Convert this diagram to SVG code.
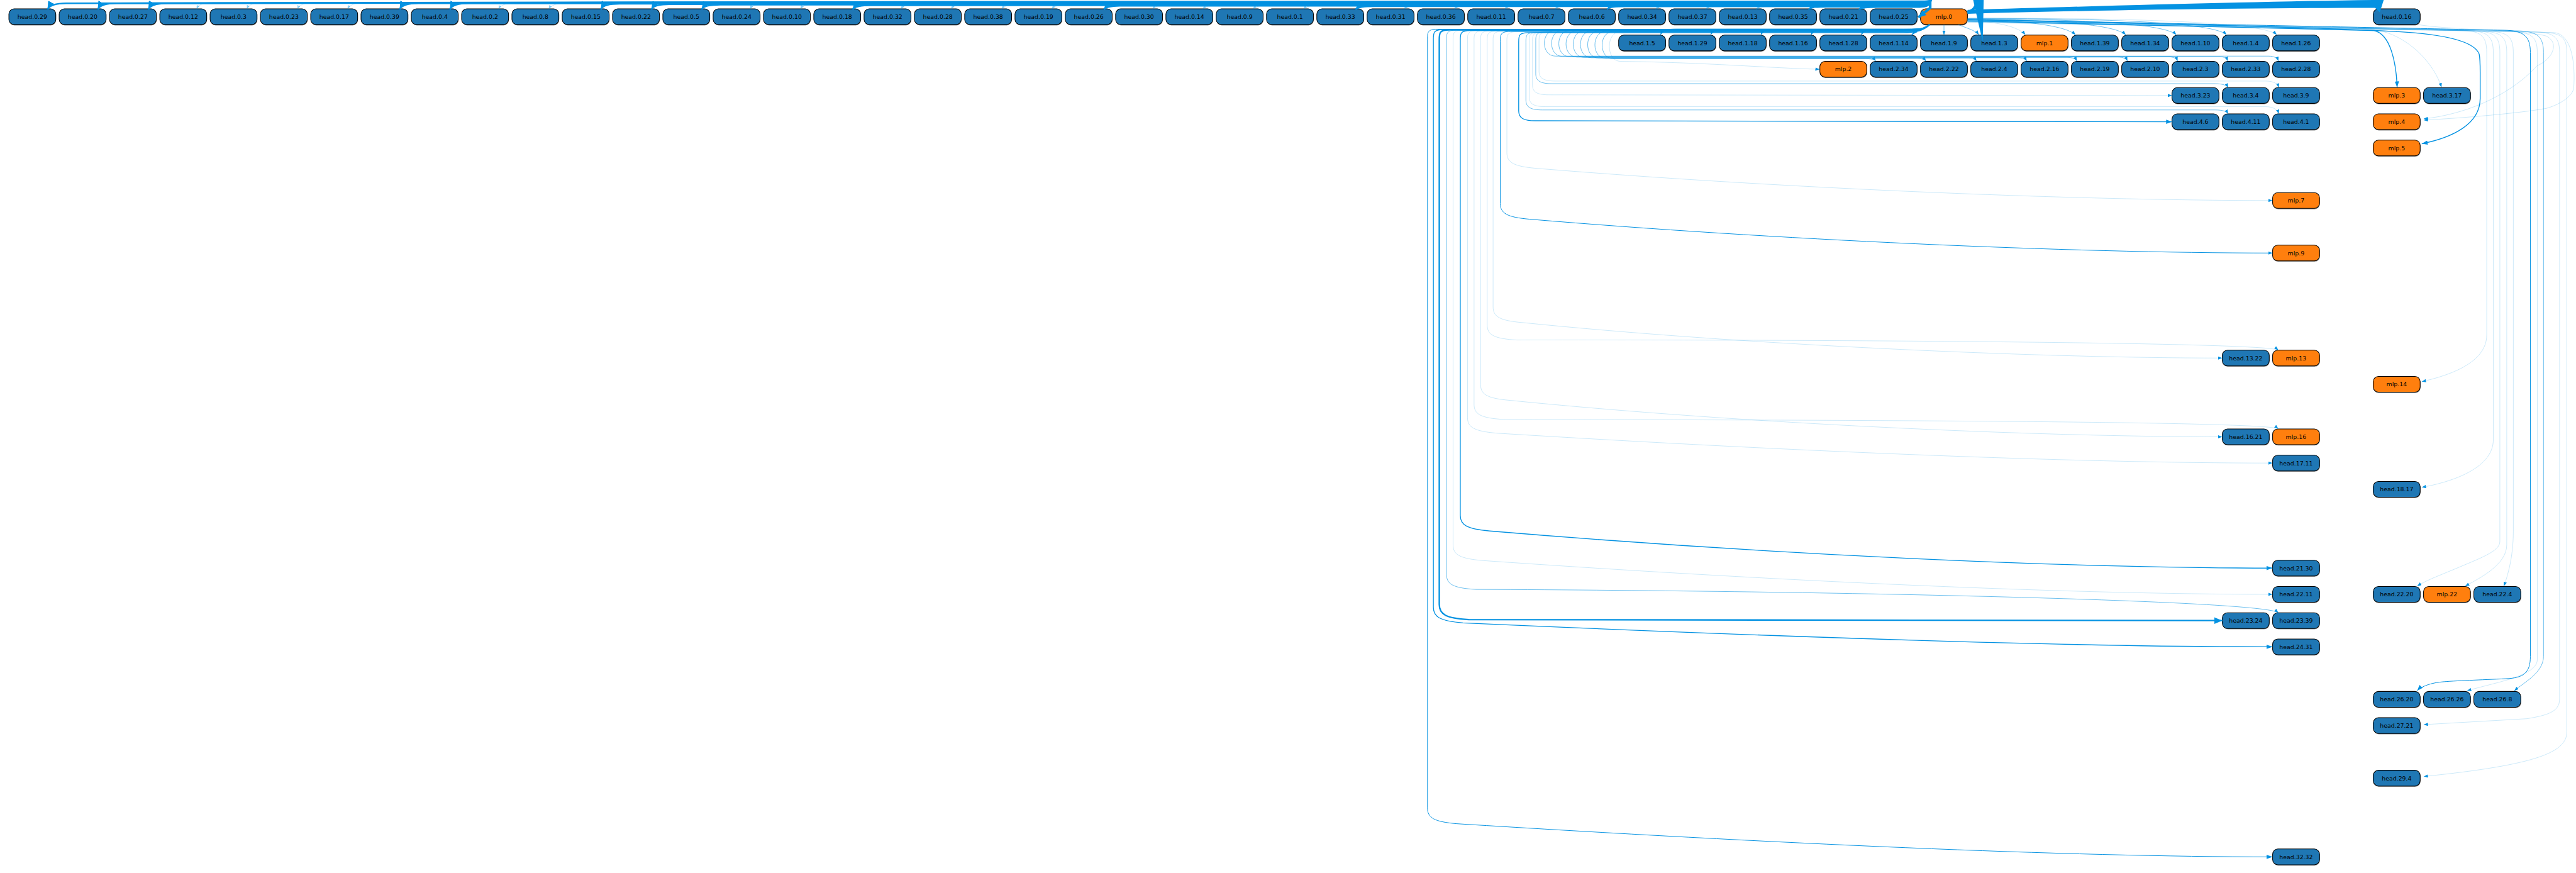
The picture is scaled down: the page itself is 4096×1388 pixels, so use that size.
<svg xmlns="http://www.w3.org/2000/svg" width="4096" height="1388" viewBox="0 0 4096 1388">
<style>
.t{font-family:"DejaVu Sans",sans-serif;font-size:18px;fill:#000;text-anchor:middle}
.e{fill:none;stroke:#0492e2}
.l{stroke-width:1;stroke-opacity:.4}
.m{stroke-width:1.5;stroke-opacity:.75}
.m2{stroke-width:1.9}
.s{stroke-width:2.6}
.k{stroke-width:4.5}
.w{stroke-width:5}
.f{fill:#0492e2;stroke:none}
</style>
<defs>
<marker id="a0" viewBox="0 0 12 9" refX="12" refY="4.5" markerWidth="12" markerHeight="9" markerUnits="userSpaceOnUse" orient="auto"><path d="M0,0L12,4.5L0,9z" fill="#0492e2" fill-opacity=".45"/></marker>
<marker id="a1" viewBox="0 0 13 10" refX="13" refY="5" markerWidth="13" markerHeight="10" markerUnits="userSpaceOnUse" orient="auto"><path d="M0,0L13,5L0,10z" fill="#0492e2"/></marker>
<marker id="a2" viewBox="0 0 18 13" refX="18" refY="6.5" markerWidth="18" markerHeight="13" markerUnits="userSpaceOnUse" orient="auto"><path d="M0,0L18,6.5L0,13z" fill="#0492e2"/></marker>
<marker id="a3" viewBox="0 0 24 20" refX="24" refY="10" markerWidth="24" markerHeight="20" markerUnits="userSpaceOnUse" orient="auto"><path d="M0,0L24,10L0,20z" fill="#0492e2"/></marker>
<g id="nb"><rect x="1" y="2.5" width="143" height="48" rx="16" fill="#8c8c8c"/><rect width="143" height="48" rx="16" fill="#1f77b4" stroke="#000" stroke-width="2"/></g>
<g id="no"><rect x="1" y="2.5" width="143" height="48" rx="16" fill="#8c8c8c"/><rect width="143" height="48" rx="16" fill="#ff7f0e" stroke="#000" stroke-width="2"/></g>
</defs>
<rect width="4096" height="1388" fill="#fff"/>
<g transform="scale(0.521783)">
<g id="nodes">
<g id="head-0-29"><use href="#nb" x="27" y="27"/><text class="t" x="98.5" y="57.5">head.0.29</text></g>
<g id="head-0-20"><use href="#nb" x="180.3" y="27"/><text class="t" x="251.8" y="57.5">head.0.20</text></g>
<g id="head-0-27"><use href="#nb" x="333.6" y="27"/><text class="t" x="405.1" y="57.5">head.0.27</text></g>
<g id="head-0-12"><use href="#nb" x="486.9" y="27"/><text class="t" x="558.4" y="57.5">head.0.12</text></g>
<g id="head-0-3"><use href="#nb" x="640.2" y="27"/><text class="t" x="711.7" y="57.5">head.0.3</text></g>
<g id="head-0-23"><use href="#nb" x="793.5" y="27"/><text class="t" x="865" y="57.5">head.0.23</text></g>
<g id="head-0-17"><use href="#nb" x="946.8" y="27"/><text class="t" x="1018.3" y="57.5">head.0.17</text></g>
<g id="head-0-39"><use href="#nb" x="1100.1" y="27"/><text class="t" x="1171.6" y="57.5">head.0.39</text></g>
<g id="head-0-4"><use href="#nb" x="1253.4" y="27"/><text class="t" x="1324.9" y="57.5">head.0.4</text></g>
<g id="head-0-2"><use href="#nb" x="1406.7" y="27"/><text class="t" x="1478.2" y="57.5">head.0.2</text></g>
<g id="head-0-8"><use href="#nb" x="1560" y="27"/><text class="t" x="1631.5" y="57.5">head.0.8</text></g>
<g id="head-0-15"><use href="#nb" x="1713.3" y="27"/><text class="t" x="1784.8" y="57.5">head.0.15</text></g>
<g id="head-0-22"><use href="#nb" x="1866.6" y="27"/><text class="t" x="1938.1" y="57.5">head.0.22</text></g>
<g id="head-0-5"><use href="#nb" x="2019.9" y="27"/><text class="t" x="2091.4" y="57.5">head.0.5</text></g>
<g id="head-0-24"><use href="#nb" x="2173.2" y="27"/><text class="t" x="2244.7" y="57.5">head.0.24</text></g>
<g id="head-0-10"><use href="#nb" x="2326.5" y="27"/><text class="t" x="2398" y="57.5">head.0.10</text></g>
<g id="head-0-18"><use href="#nb" x="2479.8" y="27"/><text class="t" x="2551.3" y="57.5">head.0.18</text></g>
<g id="head-0-32"><use href="#nb" x="2633.1" y="27"/><text class="t" x="2704.6" y="57.5">head.0.32</text></g>
<g id="head-0-28"><use href="#nb" x="2786.4" y="27"/><text class="t" x="2857.9" y="57.5">head.0.28</text></g>
<g id="head-0-38"><use href="#nb" x="2939.7" y="27"/><text class="t" x="3011.2" y="57.5">head.0.38</text></g>
<g id="head-0-19"><use href="#nb" x="3093" y="27"/><text class="t" x="3164.5" y="57.5">head.0.19</text></g>
<g id="head-0-26"><use href="#nb" x="3246.3" y="27"/><text class="t" x="3317.8" y="57.5">head.0.26</text></g>
<g id="head-0-30"><use href="#nb" x="3399.6" y="27"/><text class="t" x="3471.1" y="57.5">head.0.30</text></g>
<g id="head-0-14"><use href="#nb" x="3552.9" y="27"/><text class="t" x="3624.4" y="57.5">head.0.14</text></g>
<g id="head-0-9"><use href="#nb" x="3706.2" y="27"/><text class="t" x="3777.7" y="57.5">head.0.9</text></g>
<g id="head-0-1"><use href="#nb" x="3859.5" y="27"/><text class="t" x="3931" y="57.5">head.0.1</text></g>
<g id="head-0-33"><use href="#nb" x="4012.8" y="27"/><text class="t" x="4084.3" y="57.5">head.0.33</text></g>
<g id="head-0-31"><use href="#nb" x="4166.1" y="27"/><text class="t" x="4237.6" y="57.5">head.0.31</text></g>
<g id="head-0-36"><use href="#nb" x="4319.4" y="27"/><text class="t" x="4390.9" y="57.5">head.0.36</text></g>
<g id="head-0-11"><use href="#nb" x="4472.7" y="27"/><text class="t" x="4544.2" y="57.5">head.0.11</text></g>
<g id="head-0-7"><use href="#nb" x="4626" y="27"/><text class="t" x="4697.5" y="57.5">head.0.7</text></g>
<g id="head-0-6"><use href="#nb" x="4779.3" y="27"/><text class="t" x="4850.8" y="57.5">head.0.6</text></g>
<g id="head-0-34"><use href="#nb" x="4932.6" y="27"/><text class="t" x="5004.1" y="57.5">head.0.34</text></g>
<g id="head-0-37"><use href="#nb" x="5085.9" y="27"/><text class="t" x="5157.4" y="57.5">head.0.37</text></g>
<g id="head-0-13"><use href="#nb" x="5239.2" y="27"/><text class="t" x="5310.7" y="57.5">head.0.13</text></g>
<g id="head-0-35"><use href="#nb" x="5392.5" y="27"/><text class="t" x="5464" y="57.5">head.0.35</text></g>
<g id="head-0-21"><use href="#nb" x="5545.8" y="27"/><text class="t" x="5617.3" y="57.5">head.0.21</text></g>
<g id="head-0-25"><use href="#nb" x="5699.1" y="27"/><text class="t" x="5770.6" y="57.5">head.0.25</text></g>
<g id="mlp-0"><use href="#no" x="5852.4" y="27"/><text class="t" x="5923.9" y="57.5">mlp.0</text></g>
<g id="head-0-16"><use href="#nb" x="7232.1" y="27"/><text class="t" x="7303.6" y="57.5">head.0.16</text></g>

<g id="head-1-5"><use href="#nb" x="4932.6" y="107"/><text class="t" x="5004.1" y="137.5">head.1.5</text></g>
<g id="head-1-29"><use href="#nb" x="5085.9" y="107"/><text class="t" x="5157.4" y="137.5">head.1.29</text></g>
<g id="head-1-18"><use href="#nb" x="5239.2" y="107"/><text class="t" x="5310.7" y="137.5">head.1.18</text></g>
<g id="head-1-16"><use href="#nb" x="5392.5" y="107"/><text class="t" x="5464" y="137.5">head.1.16</text></g>
<g id="head-1-28"><use href="#nb" x="5545.8" y="107"/><text class="t" x="5617.3" y="137.5">head.1.28</text></g>
<g id="head-1-14"><use href="#nb" x="5699.1" y="107"/><text class="t" x="5770.6" y="137.5">head.1.14</text></g>
<g id="head-1-9"><use href="#nb" x="5852.4" y="107"/><text class="t" x="5923.9" y="137.5">head.1.9</text></g>
<g id="head-1-3"><use href="#nb" x="6005.7" y="107"/><text class="t" x="6077.2" y="137.5">head.1.3</text></g>
<g id="mlp-1"><use href="#no" x="6159" y="107"/><text class="t" x="6230.5" y="137.5">mlp.1</text></g>
<g id="head-1-39"><use href="#nb" x="6312.3" y="107"/><text class="t" x="6383.8" y="137.5">head.1.39</text></g>
<g id="head-1-34"><use href="#nb" x="6465.6" y="107"/><text class="t" x="6537.1" y="137.5">head.1.34</text></g>
<g id="head-1-10"><use href="#nb" x="6618.9" y="107"/><text class="t" x="6690.4" y="137.5">head.1.10</text></g>
<g id="head-1-4"><use href="#nb" x="6772.2" y="107"/><text class="t" x="6843.7" y="137.5">head.1.4</text></g>
<g id="head-1-26"><use href="#nb" x="6925.5" y="107"/><text class="t" x="6997" y="137.5">head.1.26</text></g>

<g id="mlp-2"><use href="#no" x="5545.8" y="187"/><text class="t" x="5617.3" y="217.5">mlp.2</text></g>
<g id="head-2-34"><use href="#nb" x="5699.1" y="187"/><text class="t" x="5770.6" y="217.5">head.2.34</text></g>
<g id="head-2-22"><use href="#nb" x="5852.4" y="187"/><text class="t" x="5923.9" y="217.5">head.2.22</text></g>
<g id="head-2-4"><use href="#nb" x="6005.7" y="187"/><text class="t" x="6077.2" y="217.5">head.2.4</text></g>
<g id="head-2-16"><use href="#nb" x="6159" y="187"/><text class="t" x="6230.5" y="217.5">head.2.16</text></g>
<g id="head-2-19"><use href="#nb" x="6312.3" y="187"/><text class="t" x="6383.8" y="217.5">head.2.19</text></g>
<g id="head-2-10"><use href="#nb" x="6465.6" y="187"/><text class="t" x="6537.1" y="217.5">head.2.10</text></g>
<g id="head-2-3"><use href="#nb" x="6618.9" y="187"/><text class="t" x="6690.4" y="217.5">head.2.3</text></g>
<g id="head-2-33"><use href="#nb" x="6772.2" y="187"/><text class="t" x="6843.7" y="217.5">head.2.33</text></g>
<g id="head-2-28"><use href="#nb" x="6925.5" y="187"/><text class="t" x="6997" y="217.5">head.2.28</text></g>

<g id="head-3-23"><use href="#nb" x="6618.9" y="267"/><text class="t" x="6690.4" y="297.5">head.3.23</text></g>
<g id="head-3-4"><use href="#nb" x="6772.2" y="267"/><text class="t" x="6843.7" y="297.5">head.3.4</text></g>
<g id="head-3-9"><use href="#nb" x="6925.5" y="267"/><text class="t" x="6997" y="297.5">head.3.9</text></g>
<g id="mlp-3"><use href="#no" x="7232.1" y="267"/><text class="t" x="7303.6" y="297.5">mlp.3</text></g>
<g id="head-3-17"><use href="#nb" x="7385.4" y="267"/><text class="t" x="7456.9" y="297.5">head.3.17</text></g>

<g id="head-4-6"><use href="#nb" x="6618.9" y="347"/><text class="t" x="6690.4" y="377.5">head.4.6</text></g>
<g id="head-4-11"><use href="#nb" x="6772.2" y="347"/><text class="t" x="6843.7" y="377.5">head.4.11</text></g>
<g id="head-4-1"><use href="#nb" x="6925.5" y="347"/><text class="t" x="6997" y="377.5">head.4.1</text></g>
<g id="mlp-4"><use href="#no" x="7232.1" y="347"/><text class="t" x="7303.6" y="377.5">mlp.4</text></g>
<g id="mlp-5"><use href="#no" x="7232.1" y="427"/><text class="t" x="7303.6" y="457.5">mlp.5</text></g>
<g id="mlp-7"><use href="#no" x="6925.5" y="587"/><text class="t" x="6997" y="617.5">mlp.7</text></g>
<g id="mlp-9"><use href="#no" x="6925.5" y="747"/><text class="t" x="6997" y="777.5">mlp.9</text></g>
<g id="head-13-22"><use href="#nb" x="6772.2" y="1067"/><text class="t" x="6843.7" y="1097.5">head.13.22</text></g>
<g id="mlp-13"><use href="#no" x="6925.5" y="1067"/><text class="t" x="6997" y="1097.5">mlp.13</text></g>
<g id="mlp-14"><use href="#no" x="7232.1" y="1147"/><text class="t" x="7303.6" y="1177.5">mlp.14</text></g>
<g id="head-16-21"><use href="#nb" x="6772.2" y="1307"/><text class="t" x="6843.7" y="1337.5">head.16.21</text></g>
<g id="mlp-16"><use href="#no" x="6925.5" y="1307"/><text class="t" x="6997" y="1337.5">mlp.16</text></g>
<g id="head-17-11"><use href="#nb" x="6925.5" y="1387"/><text class="t" x="6997" y="1417.5">head.17.11</text></g>
<g id="head-18-17"><use href="#nb" x="7232.1" y="1467"/><text class="t" x="7303.6" y="1497.5">head.18.17</text></g>
<g id="head-21-30"><use href="#nb" x="6925.5" y="1707"/><text class="t" x="6997" y="1737.5">head.21.30</text></g>
<g id="head-22-11"><use href="#nb" x="6925.5" y="1787"/><text class="t" x="6997" y="1817.5">head.22.11</text></g>
<g id="head-22-20"><use href="#nb" x="7232.1" y="1787"/><text class="t" x="7303.6" y="1817.5">head.22.20</text></g>
<g id="mlp-22"><use href="#no" x="7385.4" y="1787"/><text class="t" x="7456.9" y="1817.5">mlp.22</text></g>
<g id="head-22-4"><use href="#nb" x="7538.7" y="1787"/><text class="t" x="7610.2" y="1817.5">head.22.4</text></g>
<g id="head-23-24"><use href="#nb" x="6772.2" y="1867"/><text class="t" x="6843.7" y="1897.5">head.23.24</text></g>
<g id="head-23-39"><use href="#nb" x="6925.5" y="1867"/><text class="t" x="6997" y="1897.5">head.23.39</text></g>
<g id="head-24-31"><use href="#nb" x="6925.5" y="1947"/><text class="t" x="6997" y="1977.5">head.24.31</text></g>
<g id="head-26-20"><use href="#nb" x="7232.1" y="2107"/><text class="t" x="7303.6" y="2137.5">head.26.20</text></g>
<g id="head-26-26"><use href="#nb" x="7385.4" y="2107"/><text class="t" x="7456.9" y="2137.5">head.26.26</text></g>
<g id="head-26-8"><use href="#nb" x="7538.7" y="2107"/><text class="t" x="7610.2" y="2137.5">head.26.8</text></g>
<g id="head-27-21"><use href="#nb" x="7232.1" y="2187"/><text class="t" x="7303.6" y="2217.5">head.27.21</text></g>
<g id="head-29-4"><use href="#nb" x="7232.1" y="2347"/><text class="t" x="7303.6" y="2377.5">head.29.4</text></g>
<g id="head-32-32"><use href="#nb" x="6925.5" y="2587"/><text class="t" x="6997" y="2617.5">head.32.32</text></g>
</g>

<g id="connectors">
<path class="e w" marker-end="url(#a3)" d="M5996,36 C6040,30 6040,-60 5950,-60 C5895,-60 5884,-20 5884,0 C5884,2 5876,4 5850,4 C5600,4 602,5 202,10 C167,10 151,16 145,28"/>
<path class="e w" marker-end="url(#a3)" d="M5996,36 C6040,30 6040,-60 5950,-60 C5895,-60 5884,-20 5884,0 C5884,3 5876,5.5 5850,5.5 C5600,5.5 755,6.5 355,10 C320,10 304,16 298,28"/>
<path class="e w" marker-end="url(#a3)" d="M5996,36 C6040,30 6040,-60 5950,-60 C5895,-60 5884,-20 5884,0 C5884,4 5876,7 5850,7 C5600,7 909,8 509,10 C474,10 458,16 452,28"/>
<path class="e w" marker-end="url(#a3)" d="M5996,36 C6040,30 6040,-60 5950,-60 C5895,-60 5884,-20 5884,0 C5884,5 5876,8.5 5850,8.5 C5600,8.5 1675,9 1275,10 C1240,10 1224,16 1218,28"/>
<path class="e w" marker-end="url(#a3)" d="M5996,36 C6040,30 6040,-60 5950,-60 C5895,-60 5884,-20 5884,0 C5884,6 5876,10 5850,10 L1428,10 C1393,10 1377,16 1371,28"/>
<path class="e w" marker-end="url(#a3)" d="M5996,36 C6040,30 6040,-60 5950,-60 C5895,-60 5884,-20 5884,0 C5884,7 5876,11.5 5850,11.5 L1888,11.5 C1853,11.5 1837,17 1831,28"/>
<path class="e w" marker-end="url(#a3)" d="M5996,36 C6040,30 6040,-60 5950,-60 C5895,-60 5884,-20 5884,0 C5884,8 5876,13 5850,13 L2042,13 C2007,13 1991,18 1985,28"/>
<path class="e w" marker-end="url(#a3)" d="M5996,36 C6040,30 6040,-60 5950,-60 C5895,-60 5884,-20 5884,0 C5884,9 5876,14.5 5850,14.5 L2195,14.5 C2160,14.5 2144,19 2138,28"/>
<path class="e w" marker-end="url(#a3)" d="M5996,36 C6040,30 6040,-60 5950,-60 C5895,-60 5884,-20 5884,0 C5884,10 5876,16 5850,16 L2655,16 C2620,16 2604,20 2598,28"/>
<path class="e w" marker-end="url(#a3)" d="M5996,36 C6040,30 6040,-60 5950,-60 C5895,-60 5884,-20 5884,0 C5884,11 5876,17.5 5850,17.5 L3421,17.5 C3386,17.5 3370,21 3364,28"/>
<path class="e w" marker-end="url(#a3)" d="M5996,36 C6040,30 6040,-60 5950,-60 C5895,-60 5884,-20 5884,0 C5884,12 5876,19 5850,19 L4188,19 C4153,19 4137,22 4131,28"/>
<path class="e s" marker-end="url(#a2)" d="M5996,36 C6040,30 6040,-60 5950,-60 C5895,-60 5884,-20 5884,0 C5884,13 5876,20.5 5850,20.5 L4954,20.5 C4919,20.5 4903,23 4897,28"/>
<path class="e s" marker-end="url(#a2)" d="M5996,36 C6040,30 6040,-60 5950,-60 C5895,-60 5884,-20 5884,0 C5884,14 5876,21.5 5850,21.5 L5568,21.5 C5533,21.5 5517,24 5511,28"/>
<path class="e s" marker-end="url(#a2)" d="M5996,36 C6040,30 6040,-60 5950,-60 C5895,-60 5884,-20 5884,0 C5884,15 5876,22.5 5850,22.5 L5721,22.5 C5686,22.5 5670,25 5664,28"/>
<path class="e l" marker-end="url(#a0)" d="M5996,36 C6040,30 6040,-60 5950,-60 C5895,-60 5884,-20 5884,0 C5884,4 5876,7 5850,7 L647,7 C622,7 605,14 599,28"/>
<path class="e l" marker-end="url(#a0)" d="M5996,36 C6040,30 6040,-60 5950,-60 C5895,-60 5884,-20 5884,0 C5884,4 5876,7.5 5850,7.5 L800,7.5 C775,7.5 758,14 752,28"/>
<path class="e l" marker-end="url(#a0)" d="M5996,36 C6040,30 6040,-60 5950,-60 C5895,-60 5884,-20 5884,0 C5884,5 5876,8 5850,8 L954,8 C929,8 912,15 906,28"/>
<path class="e l" marker-end="url(#a0)" d="M5996,36 C6040,30 6040,-60 5950,-60 C5895,-60 5884,-20 5884,0 C5884,5 5876,8.5 5850,8.5 L1107,8.5 C1082,8.5 1065,15 1059,28"/>
<path class="e l" marker-end="url(#a0)" d="M5996,36 C6040,30 6040,-60 5950,-60 C5895,-60 5884,-20 5884,0 C5884,6 5876,9.5 5850,9.5 L1567,9.5 C1542,9.5 1525,16 1519,28"/>
<path class="e l" marker-end="url(#a0)" d="M5996,36 C6040,30 6040,-60 5950,-60 C5895,-60 5884,-20 5884,0 C5884,6 5876,10 5850,10 L1720,10 C1695,10 1678,17 1672,28"/>
<path class="e l" marker-end="url(#a0)" d="M5996,36 C6040,30 6040,-60 5950,-60 C5895,-60 5884,-20 5884,0 C5884,7 5876,11 5850,11 L2333,11 C2308,11 2291,18 2285,28"/>
<path class="e l" marker-end="url(#a0)" d="M5996,36 C6040,30 6040,-60 5950,-60 C5895,-60 5884,-20 5884,0 C5884,7 5876,11.5 5850,11.5 L2487,11.5 C2462,11.5 2445,18 2439,28"/>
<path class="e l" marker-end="url(#a0)" d="M5996,36 C6040,30 6040,-60 5950,-60 C5895,-60 5884,-20 5884,0 C5884,8 5876,12 5850,12 L2793,12 C2768,12 2751,19 2745,28"/>
<path class="e l" marker-end="url(#a0)" d="M5996,36 C6040,30 6040,-60 5950,-60 C5895,-60 5884,-20 5884,0 C5884,8 5876,12.5 5850,12.5 L2946,12.5 C2921,12.5 2904,19 2898,28"/>
<path class="e l" marker-end="url(#a0)" d="M5996,36 C6040,30 6040,-60 5950,-60 C5895,-60 5884,-20 5884,0 C5884,9 5876,13 5850,13 L3100,13 C3075,13 3058,20 3052,28"/>
<path class="e l" marker-end="url(#a0)" d="M5996,36 C6040,30 6040,-60 5950,-60 C5895,-60 5884,-20 5884,0 C5884,9 5876,13.5 5850,13.5 L3253,13.5 C3228,13.5 3211,20 3205,28"/>
<path class="e l" marker-end="url(#a0)" d="M5996,36 C6040,30 6040,-60 5950,-60 C5895,-60 5884,-20 5884,0 C5884,10 5876,14 5850,14 L3560,14 C3535,14 3518,20 3512,28"/>
<path class="e l" marker-end="url(#a0)" d="M5996,36 C6040,30 6040,-60 5950,-60 C5895,-60 5884,-20 5884,0 C5884,10 5876,14.5 5850,14.5 L3713,14.5 C3688,14.5 3671,21 3665,28"/>
<path class="e l" marker-end="url(#a0)" d="M5996,36 C6040,30 6040,-60 5950,-60 C5895,-60 5884,-20 5884,0 C5884,11 5876,15 5850,15 L3866,15 C3841,15 3824,21 3818,28"/>
<path class="e l" marker-end="url(#a0)" d="M5996,36 C6040,30 6040,-60 5950,-60 C5895,-60 5884,-20 5884,0 C5884,11 5876,15.5 5850,15.5 L4020,15.5 C3995,15.5 3978,21 3972,28"/>
<path class="e l" marker-end="url(#a0)" d="M5996,36 C6040,30 6040,-60 5950,-60 C5895,-60 5884,-20 5884,0 C5884,12 5876,16 5850,16 L4326,16 C4301,16 4284,22 4278,28"/>
<path class="e l" marker-end="url(#a0)" d="M5996,36 C6040,30 6040,-60 5950,-60 C5895,-60 5884,-20 5884,0 C5884,12 5876,16.5 5850,16.5 L4479,16.5 C4454,16.5 4437,22 4431,28"/>
<path class="e l" marker-end="url(#a0)" d="M5996,36 C6040,30 6040,-60 5950,-60 C5895,-60 5884,-20 5884,0 C5884,13 5876,17 5850,17 L4633,17 C4608,17 4591,22 4585,28"/>
<path class="e l" marker-end="url(#a0)" d="M5996,36 C6040,30 6040,-60 5950,-60 C5895,-60 5884,-20 5884,0 C5884,13 5876,17.5 5850,17.5 L4786,17.5 C4761,17.5 4744,23 4738,28"/>
<path class="e l" marker-end="url(#a0)" d="M5996,36 C6040,30 6040,-60 5950,-60 C5895,-60 5884,-20 5884,0 C5884,14 5876,18 5850,18 L5093,18 C5068,18 5051,23 5045,28"/>
<path class="e l" marker-end="url(#a0)" d="M5996,36 C6040,30 6040,-60 5950,-60 C5895,-60 5884,-20 5884,0 C5884,14 5876,18.5 5850,18.5 L5246,18.5 C5221,18.5 5204,23 5198,28"/>
<path class="e l" marker-end="url(#a0)" d="M5996,36 C6040,30 6040,-60 5950,-60 C5895,-60 5884,-20 5884,0 C5884,15 5876,19 5850,19 L5399,19 C5374,19 5357,24 5351,28"/>
<path class="e" stroke-width="8" marker-end="url(#a3)" d="M5996,36 C6040,30 6040,-60 5950,-60 C5895,-60 5882,-20 5882,0 L5882,24 L5846,53"/>
<path class="f" d="M6013,0 L6045,0 L6042,128 Z"/>
<path class="f" d="M5996,30 C6400,18 6900,4 7232,0 L7264,0 L7252,38 L7238,24 C6900,24 6400,30 5996,42 Z"/>

<path class="e m" marker-end="url(#a1)" d="M5880,75 C5868,88 5850,88 5800,88 L5110,88 C5080,88 5066,94 5060,106"/>
<path class="e m" marker-end="url(#a1)" d="M5880,75 C5868,88 5850,89 5800,89 L5263,89 C5233,89 5219,95 5213,106"/>
<path class="e m" marker-end="url(#a1)" d="M5880,75 C5868,88 5850,89.5 5800,89.5 L5416,89.5 C5386,89.5 5372,95 5366,106"/>
<path class="e m" marker-end="url(#a1)" d="M5880,75 C5868,88 5850,90 5800,90 L5569,90 C5539,90 5525,95 5519,106"/>
<path class="e m" marker-end="url(#a1)" d="M5880,75 C5868,88 5850,90.5 5800,90.5 L5722,90.5 C5692,90.5 5678,95 5672,106"/>
<path class="e s" marker-end="url(#a2)" d="M5880,75 C5866,85 5840,92 5826,106"/>
<path class="e m" marker-end="url(#a1)" d="M5924,75 L5924,106"/>
<path class="e m" marker-end="url(#a1)" d="M5968,75 C5990,85 6020,92 6030,106"/>
<path class="e l" marker-end="url(#a1)" d="M5996,62 C6080,66 6150,80 6172,106"/>
<path class="e m" marker-end="url(#a1)" d="M5996,60 C6150,62 6290,75 6325,106"/>
<path class="e m" marker-end="url(#a1)" d="M5996,58 C6200,60 6440,70 6478,106"/>
<path class="e m" marker-end="url(#a1)" d="M5996,57 C6250,58 6590,66 6632,106"/>
<path class="e m" marker-end="url(#a1)" d="M5996,56 C6300,56 6740,62 6785,106"/>
<path class="e l" marker-end="url(#a1)" d="M5996,55 C6350,55 6890,60 6938,106"/>

<path class="e m" marker-end="url(#a1)" d="M5880,75 C5868,88 5850,92 5800,92 L4740,92 C4695,92 4695,171 4740,171 L6913,171 C6931,171 6940,177 6943,186"/>
<path class="e m" marker-end="url(#a1)" d="M5880,75 C5868,88 5850,92.5 5800,92.5 L4762,92.5 C4717,92.5 4717,172 4762,172 L6759,172 C6777,172 6786,178 6789,186"/>
<path class="e m" marker-end="url(#a1)" d="M5880,75 C5868,88 5850,93 5800,93 L4784,93 C4739,93 4739,173 4784,173 L6606,173 C6624,173 6633,178 6636,186"/>
<path class="e m" marker-end="url(#a1)" d="M5880,75 C5868,88 5850,93.5 5800,93.5 L4806,93.5 C4761,93.5 4761,174 4806,174 L6453,174 C6471,174 6480,179 6483,186"/>
<path class="e m" marker-end="url(#a1)" d="M5880,75 C5868,88 5850,94 5800,94 L4828,94 C4783,94 4783,175 4828,175 L6299,175 C6317,175 6326,180 6329,186"/>
<path class="e m" marker-end="url(#a1)" d="M5880,75 C5868,88 5850,94.5 5800,94.5 L4850,94.5 C4805,94.5 4805,176 4850,176 L6146,176 C6164,176 6173,180 6176,186"/>
<path class="e m" marker-end="url(#a1)" d="M5880,75 C5868,88 5850,95 5800,95 L4872,95 C4827,95 4827,177 4872,177 L5993,177 C6011,177 6020,181 6023,186"/>
<path class="e m" marker-end="url(#a1)" d="M5880,75 C5868,88 5850,95.5 5800,95.5 L4894,95.5 C4849,95.5 4849,178 4894,178 L5839,178 C5857,178 5866,182 5869,186"/>
<path class="e m" marker-end="url(#a1)" d="M5880,75 C5868,88 5850,96 5800,96 L4916,96 C4871,96 4871,179 4916,179 L5686,179 C5704,179 5713,182 5716,186"/>
<path class="e l" marker-end="url(#a1)" d="M5880,75 C5868,88 5850,96.5 5800,96.5 L4938,96.5 C4893,96.5 4893,186 4938,187 C5200,190 5400,208 5545,211"/>

<path class="e l" marker-end="url(#a1)" d="M5880,75 C5868,88 5850,97 5800,97 L4720,97 C4690,97 4690,107 4690,127 L4690,217 C4690,239 4705,247 4740,247 L6904,247 C6929,247 6941,255 6944,267"/>
<path class="e m" marker-end="url(#a1)" d="M5880,75 C5868,88 5850,97.5 5800,97.5 L4710,97.5 C4680,97.5 4680,107 4680,127 L4680,225 C4680,247 4695,255 4730,255 L6750,255 C6775,255 6787,261 6790,267"/>
<path class="e l" marker-end="url(#a1)" d="M5880,75 C5868,88 5850,98 5800,98 L4700,98 C4670,98 4670,108 4670,128 L4670,259 C4670,281 4685,289 4720,289 L6619,291"/>
<path class="e l" marker-end="url(#a1)" d="M5880,75 C5868,88 5850,98.5 5800,98.5 L4690,98.5 C4660,98.5 4660,108 4660,128 L4660,295 C4660,317 4675,325 4710,325 L6904,325 C6929,325 6941,335 6944,347"/>
<path class="e m" marker-end="url(#a1)" d="M5880,75 C5868,88 5850,99 5800,99 L4680,99 C4650,99 4650,109 4650,129 L4650,305 C4650,327 4665,335 4700,335 L6750,335 C6775,335 6786,340 6790,347"/>
<path class="e s" marker-end="url(#a2)" d="M5880,75 C5868,88 5850,99.5 5800,99.5 L4658,99.5 C4628,99.5 4628,109 4628,129 L4628,338 C4628,360 4643,368 4678,368 L6619,371"/>

<path class="e l" marker-end="url(#a1)" d="M5880,75 C5868,88 5850,97 5800,97 L4622,97 C4592,97 4592,107 4592,127 L4592,465 C4592,495 4612,507 4682,513 C5400,572 6300,611 6925,611"/>
<path class="e m2" marker-end="url(#a1)" d="M5880,75 C5868,88 5850,96 5800,96 L4602,96 C4572,96 4572,106 4572,126 L4572,620 C4572,650 4592,662 4662,668 C5400,730 6300,771 6925,771"/>
<path class="e l" marker-end="url(#a1)" d="M5880,75 C5868,88 5850,95.5 5800,95.5 L4580,95.5 C4550,95.5 4550,105 4550,125 L4550,935 C4550,965 4570,977 4640,983 C5300,1050 6200,1091 6772,1091"/>
<path class="e l" marker-end="url(#a1)" d="M5880,75 C5868,88 5850,95 5800,95 L4562,95 C4532,95 4532,105 4532,125 L4532,990 C4532,1020 4552,1032 4622,1036 C5600,1035 6915,1043 6943,1067"/>
<path class="e l" marker-end="url(#a1)" d="M5880,75 C5868,88 5850,94.5 5800,94.5 L4542,94.5 C4512,94.5 4512,104 4512,124 L4512,1172 C4512,1202 4532,1214 4602,1220 C5300,1290 6200,1331 6772,1331"/>
<path class="e l" marker-end="url(#a1)" d="M5880,75 C5868,88 5850,94 5800,94 L4522,94 C4492,94 4492,104 4492,124 L4492,1232 C4492,1262 4512,1274 4582,1278 C5600,1280 6915,1283 6943,1307"/>
<path class="e l" marker-end="url(#a1)" d="M5880,75 C5868,88 5850,93.5 5800,93.5 L4502,93.5 C4472,93.5 4472,103 4472,123 L4472,1272 C4472,1302 4492,1314 4562,1320 C5400,1372 6300,1411 6925,1411"/>
<path class="e s" marker-end="url(#a2)" d="M5880,75 C5868,88 5850,93 5800,93 L4480,93 C4450,93 4450,103 4450,123 L4450,1570 C4450,1600 4470,1612 4540,1618 C5400,1690 6300,1731 6925,1731"/>
<path class="e l" marker-end="url(#a1)" d="M5880,75 C5868,88 5850,92.5 5800,92.5 L4458,92.5 C4428,92.5 4428,102 4428,122 L4428,1660 C4428,1690 4448,1702 4518,1708 C5400,1770 6300,1811 6925,1811"/>
<path class="e m" marker-end="url(#a1)" d="M5880,75 C5868,88 5850,92 5800,92 L4438,92 C4408,92 4408,102 4408,122 L4408,1750 C4408,1780 4428,1792 4498,1796 C5600,1800 6900,1830 6943,1867"/>
<path class="e k" marker-end="url(#a3)" d="M5880,75 C5868,88 5850,91 5800,91 L4416,91 C4386,91 4386,101 4386,121 L4386,1842 C4386,1872 4406,1884 4476,1888 C5400,1890 6300,1891 6772,1891"/>
<path class="e s" marker-end="url(#a2)" d="M5880,75 C5868,88 5850,90 5800,90 L4398,90 C4368,90 4368,100 4368,120 L4368,1850 C4368,1880 4388,1892 4458,1898 C5400,1940 6300,1971 6925,1971"/>
<path class="e m2" marker-end="url(#a2)" d="M5880,75 C5868,88 5850,89 5800,89 L4380,89 C4350,89 4350,99 4350,119 L4350,2462 C4350,2492 4370,2504 4440,2510 C5400,2570 6300,2611 6925,2611"/>

<path class="e s" marker-end="url(#a2)" d="M5996,64 C6600,76 7150,88 7235,93 C7285,105 7302,190 7305,266"/>
<path class="e l" marker-end="url(#a1)" d="M5996,66 C6600,78 7180,90 7262,96 C7350,120 7420,200 7440,266"/>
<path class="e s" marker-end="url(#a2)" d="M5996,60 C6600,72 7100,86 7300,96 C7450,104 7540,125 7555,165 C7558,180 7558,200 7558,220 L7558,300 C7558,380 7470,420 7380,438"/>
<path class="e l" marker-end="url(#a1)" d="M7370,75 C7450,90 7700,92 7760,110 C7800,130 7780,180 7732,200 C7640,300 7500,350 7386,362"/>
<path class="e l" marker-end="url(#a1)" d="M5996,68 C6600,80 7560,94 7780,99 C7840,101 7848,200 7843,270 C7835,300 7790,322 7760,330 C7680,345 7500,360 7386,366"/>
<path class="e l" marker-end="url(#a1)" d="M5996,62 C6600,74 7300,88 7500,92 C7560,94 7578,110 7578,160 L7578,1020 C7578,1100 7480,1140 7380,1163"/>
<path class="e l" marker-end="url(#a1)" d="M5996,61 C6600,73 7320,89 7520,93 C7580,95 7598,110 7598,160 L7598,1340 C7598,1420 7490,1465 7380,1485"/>
<path class="e l" marker-end="url(#a1)" d="M5996,63 C6600,75 7340,89 7540,94 C7600,96 7618,110 7618,160 L7618,1650 C7618,1680 7560,1700 7478,1735 C7430,1755 7390,1770 7366,1786"/>
<path class="e l" marker-end="url(#a1)" d="M5996,63 C6600,75 7360,90 7560,95 C7620,97 7639,110 7639,160 L7639,1660 C7639,1720 7560,1760 7512,1786"/>
<path class="e l" marker-end="url(#a1)" d="M5996,64 C6600,76 7380,90 7580,95 C7640,97 7659,110 7659,160 L7659,1620 C7659,1700 7640,1760 7630,1786"/>
<path class="e m2" marker-end="url(#a2)" d="M5996,59 C6600,71 7430,88 7630,92 C7690,93 7711,110 7711,160 L7711,2000 C7711,2050 7690,2066 7637,2068 C7560,2072 7480,2074 7440,2078 C7400,2082 7375,2095 7366,2105"/>
<path class="e l" marker-end="url(#a1)" d="M5996,65 C6600,77 7450,91 7650,96 C7712,98 7732,110 7732,160 L7732,2010 C7732,2060 7600,2080 7518,2105"/>
<path class="e m" marker-end="url(#a1)" d="M5996,61 C6600,73 7470,90 7670,94 C7731,95 7751,110 7751,160 L7751,2000 C7751,2050 7690,2080 7662,2105"/>
<path class="e l" marker-end="url(#a1)" d="M5996,66 C6600,78 7520,92 7720,97 C7780,99 7800,110 7800,160 L7800,2130 C7800,2170 7760,2180 7700,2190 L7386,2208"/>
<path class="e l" marker-end="url(#a1)" d="M5996,67 C6600,79 7540,93 7740,98 C7802,100 7822,110 7822,160 L7822,2230 C7822,2290 7740,2330 7386,2366"/>
</g>
</g>
</svg>
